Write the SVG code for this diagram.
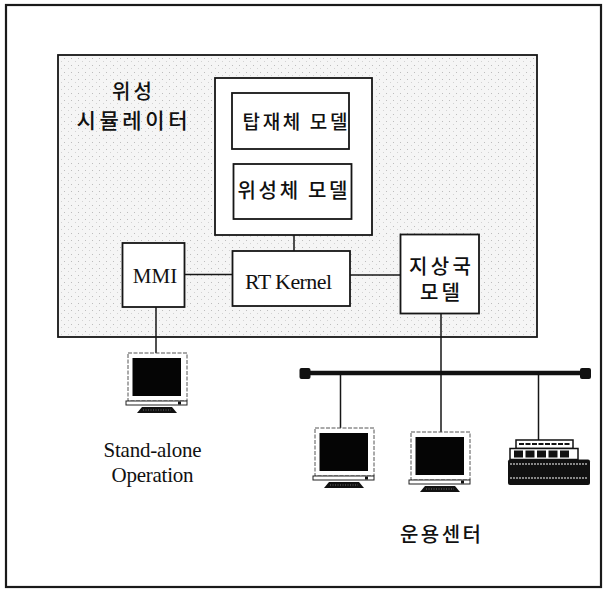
<svg xmlns="http://www.w3.org/2000/svg" xmlns:xlink="http://www.w3.org/1999/xlink" width="604" height="590" viewBox="0 0 604 590">
  <style>
    .box { fill: #ffffff; stroke: #161616; stroke-width: 1.8; }
    .wire { stroke: #161616; stroke-width: 1.5; fill: none; }
    .ko { font-family: "Noto Sans CJK KR", "Noto Sans", sans-serif; font-weight: 500; fill: #111; text-anchor: middle; }
    .en { font-family: "Liberation Serif", "Times New Roman", serif; fill: #111; text-anchor: middle; }
  </style>
  <defs>
    <!-- light stipple used for the simulator area -->
    <pattern id="stipple" width="7" height="7" patternUnits="userSpaceOnUse">
      <rect width="7" height="7" fill="#f5f5f5"/>
      <rect x="1" y="2" width="1" height="1" fill="#bdbdbd"/>
      <rect x="5" y="5" width="1" height="1" fill="#d2d2d2"/>
    </pattern>
    <!-- workstation monitor, origin at the casing's top-left corner -->
    <g id="monitor">
      <rect x="0" y="0" width="59" height="48" fill="#fff" stroke="#555" stroke-width="1" stroke-dasharray="4 1.5"/>
      <rect x="4.5" y="5" width="48.5" height="38" fill="#050505"/>
      <rect x="-2" y="48" width="61" height="4" fill="#fff" stroke="#222" stroke-width="1"/>
      <rect x="50" y="48.5" width="3" height="3" fill="#111"/>
      <path d="M9 60 L14 54 L44 54 L49 60 Z" fill="#111"/>
      <path d="M15 57 L43 57" stroke="#888" stroke-width="0.8" stroke-dasharray="1 1.5"/>
    </g>
  </defs>

  <!-- page frame -->
  <rect x="0" y="0" width="604" height="590" fill="#fff"/>
  <rect x="6" y="5" width="595" height="582" fill="none" stroke="#1a1a1a" stroke-width="2.2"/>

  <!-- satellite simulator area -->
  <g id="simulator">
    <rect x="58" y="55" width="479" height="282" fill="url(#stipple)" stroke="#161616" stroke-width="1.8"/>
    <text class="ko" x="132" y="98.5" font-size="20" textLength="40">위성</text>
    <text class="ko" x="132" y="128" font-size="21" textLength="111">시뮬레이터</text>
  </g>

  <g id="model-group">
    <rect class="box" x="215" y="78" width="157" height="157"/>
  </g>
  <g id="payload-model">
    <rect class="box" x="232" y="93" width="117" height="56"/>
    <text class="ko" x="295" y="128.5" font-size="19" textLength="105">탑재체 모델</text>
  </g>
  <g id="bus-model">
    <rect class="box" x="233.5" y="164" width="118" height="55"/>
    <text class="ko" x="292.5" y="198" font-size="20" textLength="110">위성체 모델</text>
  </g>
  <g id="mmi">
    <rect class="box" x="122.5" y="243" width="62" height="64"/>
    <text class="en" x="155" y="283" font-size="21">MMI</text>
  </g>
  <g id="rt-kernel">
    <rect class="box" x="232.5" y="251" width="117.5" height="55"/>
    <text class="en" x="288.5" y="289" font-size="22" textLength="87">RT Kernel</text>
  </g>
  <g id="ground-station">
    <rect class="box" x="400.5" y="234.5" width="78.5" height="79"/>
    <text class="ko" x="440" y="273.5" font-size="20" textLength="62">지상국</text>
    <text class="ko" x="440" y="300" font-size="20" textLength="40">모델</text>
  </g>

  <!-- links between blocks and to the network -->
  <g id="connectors">
    <path class="wire" d="M294 235 V251"/>
    <path class="wire" d="M184.5 274.5 H232.5"/>
    <path class="wire" d="M350 275 H400.5"/>
    <path class="wire" d="M156 307 V353"/>
    <path class="wire" d="M441 313.5 V432"/>
    <path class="wire" d="M340.5 373 V428"/>
    <path class="wire" d="M538.5 373 V440"/>
    <!-- LAN backbone -->
    <path d="M305 373 H586" stroke="#111" stroke-width="4.5" fill="none"/>
    <rect x="299.5" y="368" width="11" height="11" rx="2" fill="#111"/>
    <rect x="580" y="368" width="11" height="11" rx="2" fill="#111"/>
  </g>

  <g id="standalone-terminal">
    <use xlink:href="#monitor" x="128" y="353"/>
    <text class="en" x="152.5" y="457" font-size="21" textLength="98">Stand-alone</text>
    <text class="en" x="152.5" y="481.5" font-size="21" textLength="82">Operation</text>
  </g>

  <g id="ops-terminal-1">
    <use xlink:href="#monitor" x="315" y="428"/>
  </g>
  <g id="ops-terminal-2">
    <use xlink:href="#monitor" x="411" y="432"/>
  </g>

  <g id="ops-device">
    <rect x="516" y="440" width="57" height="8.5" fill="#fff" stroke="#111" stroke-width="1.5"/>
    <path d="M519 444 H570" stroke="#111" stroke-width="2" stroke-dasharray="5 1.5"/>
    <rect x="510" y="448.5" width="68" height="11" fill="#fff" stroke="#111" stroke-width="1.5"/>
    <rect x="514" y="450.5" width="9" height="7" fill="#111"/>
    <rect x="525.5" y="450.5" width="9" height="7" fill="#111"/>
    <rect x="537" y="450.5" width="9" height="7" fill="#111"/>
    <rect x="548.5" y="450.5" width="9" height="7" fill="#111"/>
    <rect x="560" y="450.5" width="9" height="7" fill="#111"/>
    <rect x="508" y="459.5" width="82" height="25.5" rx="2" fill="#111"/>
    <path d="M510 464 H588" stroke="#fff" stroke-width="1.2" stroke-dasharray="2 1"/>
    <path d="M510 478 H588" stroke="#fff" stroke-width="1.2" stroke-dasharray="2 1"/>
  </g>

  <g id="operations-center">
    <text class="ko" x="440.5" y="541.5" font-size="20" textLength="81">운용센터</text>
  </g>
</svg>
